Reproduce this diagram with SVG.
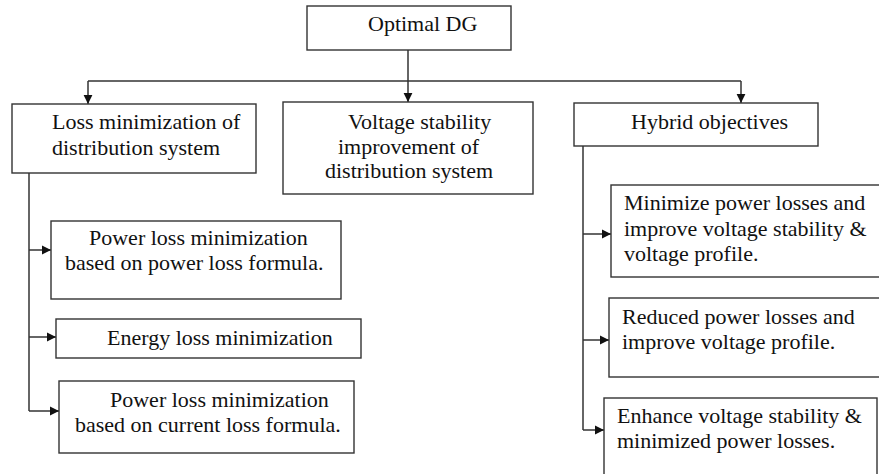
<svg xmlns="http://www.w3.org/2000/svg" width="879" height="474" viewBox="0 0 879 474">
<style>
.box{fill:#fff;stroke:#333;stroke-width:1.4}
.t{font-family:"Liberation Serif","Times New Roman",serif;font-size:22px;fill:#111}
.c{fill:none;stroke:#333;stroke-width:1.5}
</style>
<defs>
<marker id="ah" markerUnits="userSpaceOnUse" markerWidth="10" markerHeight="10" refX="9" refY="5" orient="auto">
<path d="M0,0.6 L9,5 L0,9.4 Z" fill="#111"/>
</marker>
</defs>
<rect width="879" height="474" fill="#fff"/>
<g id="connectors">
<path class="c" d="M408,50 V102" marker-end="url(#ah)"/>
<path class="c" d="M88,81 H741"/>
<path class="c" d="M88,81 V104" marker-end="url(#ah)"/>
<path class="c" d="M741,81 V103" marker-end="url(#ah)"/>
<path class="c" d="M29,173 V411"/>
<path class="c" d="M29,250 H51" marker-end="url(#ah)"/>
<path class="c" d="M29,337 H56" marker-end="url(#ah)"/>
<path class="c" d="M29,411 H59" marker-end="url(#ah)"/>
<path class="c" d="M583,146 V430"/>
<path class="c" d="M583,234 H611" marker-end="url(#ah)"/>
<path class="c" d="M583,340 H609" marker-end="url(#ah)"/>
<path class="c" d="M583,430 H604" marker-end="url(#ah)"/>
</g>
<g id="optimal-dg">
<rect class="box" x="307" y="6" width="204" height="44"/>
<text class="t" x="368" y="31">Optimal DG</text>
</g>
<g id="loss-min">
<rect class="box" x="12" y="104" width="244" height="69"/>
<text class="t" x="52" y="129">Loss minimization of</text>
<text class="t" x="52" y="155">distribution system</text>
</g>
<g id="voltage-stability">
<rect class="box" x="283" y="102" width="250" height="92"/>
<text class="t" x="348" y="129">Voltage stability</text>
<text class="t" x="338" y="154">improvement of</text>
<text class="t" x="325" y="178">distribution system</text>
</g>
<g id="hybrid">
<rect class="box" x="574" y="103" width="244" height="43"/>
<text class="t" x="631" y="129">Hybrid objectives</text>
</g>
<g id="power-loss-formula">
<rect class="box" x="51" y="221" width="290" height="78"/>
<text class="t" x="89" y="245">Power loss minimization</text>
<text class="t" x="65" y="270">based on power loss formula.</text>
</g>
<g id="energy-loss">
<rect class="box" x="56" y="319" width="305" height="39"/>
<text class="t" x="107" y="345">Energy loss minimization</text>
</g>
<g id="current-loss-formula">
<rect class="box" x="59" y="381" width="295" height="72"/>
<text class="t" x="110" y="407">Power loss minimization</text>
<text class="t" x="75" y="432">based on current loss formula.</text>
</g>
<g id="minimize-losses">
<rect class="box" x="611" y="185" width="290" height="92"/>
<text class="t" x="624" y="210">Minimize power losses and</text>
<text class="t" x="624" y="236">improve voltage stability &amp;</text>
<text class="t" x="624" y="261">voltage profile.</text>
</g>
<g id="reduced-losses">
<rect class="box" x="609" y="298" width="290" height="79"/>
<text class="t" x="622" y="324">Reduced power losses and</text>
<text class="t" x="622" y="349">improve voltage profile.</text>
</g>
<g id="enhance-stability">
<rect class="box" x="604" y="398" width="273" height="90"/>
<text class="t" x="617" y="423">Enhance voltage stability &amp;</text>
<text class="t" x="617" y="448">minimized power losses.</text>
</g>
</svg>
